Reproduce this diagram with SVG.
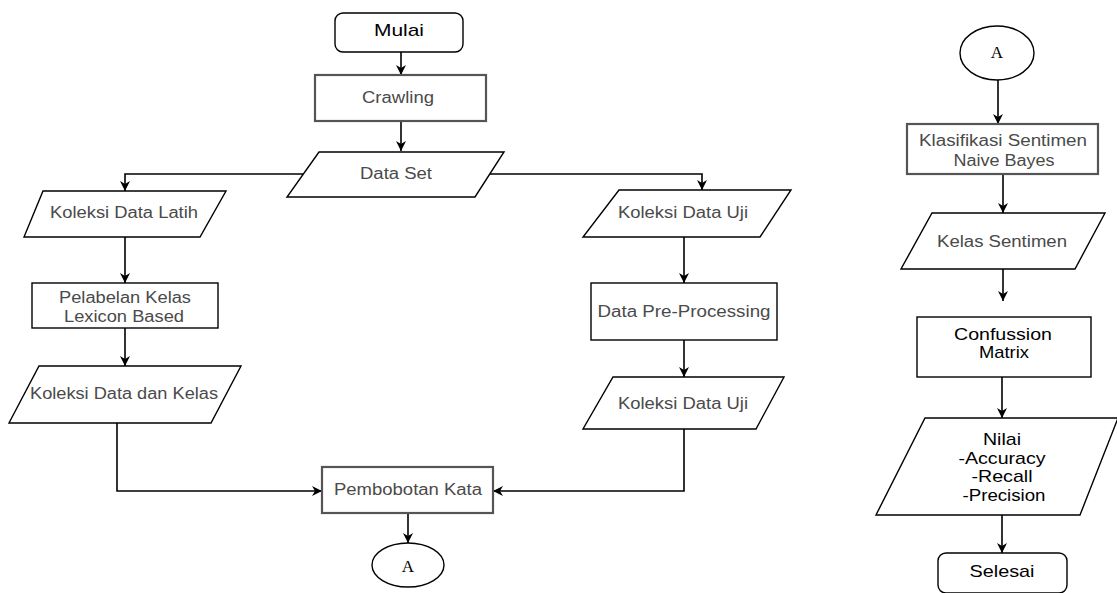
<svg xmlns="http://www.w3.org/2000/svg" width="1117" height="593" viewBox="0 0 1117 593">
<defs>
<marker id="ah" markerUnits="userSpaceOnUse" markerWidth="11" markerHeight="11" refX="10" refY="5" orient="auto">
<path d="M0,0 L10,5 L0,10 L3,5 z" fill="#000"/>
</marker>
<style>
.sh{fill:#fff;stroke:#000;stroke-width:1.4}
.gb{fill:#fff;stroke:#555;stroke-width:2.2}
.t{font-family:"Liberation Sans",Arial,sans-serif;font-size:16px;fill:#4a4a4a;text-anchor:middle}
.k{font-family:"Liberation Sans",Arial,sans-serif;font-size:17px;fill:#000;text-anchor:middle}
.s{font-family:"Liberation Serif","Times New Roman",serif;font-size:17px;fill:#000;text-anchor:middle}
.c{fill:none;stroke:#000;stroke-width:1.6;marker-end:url(#ah)}
</style>
</defs>
<g id="connectors">
<path class="c" d="M401,52 V75"/>
<path class="c" d="M401,121 V151"/>
<path class="c" d="M303,174 H125 V191"/>
<path class="c" d="M490,174 H702 V190"/>
<path class="c" d="M125,237 V283"/>
<path class="c" d="M125,328 V366"/>
<path class="c" d="M684,237 V283"/>
<path class="c" d="M684,340 V377"/>
<path class="c" d="M117,423 V491 H322"/>
<path class="c" d="M684,429 V491 H493"/>
<path class="c" d="M408,513 V543"/>
<path class="c" d="M998,80 V124"/>
<path class="c" d="M1003,174 V213"/>
<path class="c" d="M1003,269 V301"/>
<path class="c" d="M1002,377 V418"/>
<path class="c" d="M1002,515 V553"/>
</g>
<g id="mulai">
<rect class="sh" x="335" y="13" width="128" height="39" rx="8"/>
<text class="k" x="399" y="36" textLength="50" lengthAdjust="spacingAndGlyphs">Mulai</text>
</g>
<g id="crawling">
<rect class="gb" x="315" y="75" width="171" height="46"/>
<text class="t" x="398" y="103" textLength="72" lengthAdjust="spacingAndGlyphs">Crawling</text>
</g>
<g id="dataset">
<polygon class="sh" points="319,152 504,152 475,197 287,197"/>
<text class="t" x="396" y="179" textLength="72" lengthAdjust="spacingAndGlyphs">Data Set</text>
</g>
<g id="koleksi-latih">
<polygon class="sh" points="43,191 226,191 200,237 24,237"/>
<text class="t" x="124" y="218" textLength="148" lengthAdjust="spacingAndGlyphs">Koleksi Data Latih</text>
</g>
<g id="pelabelan">
<rect class="sh" x="32" y="283" width="186" height="45"/>
<text class="t" x="125" y="303" textLength="132" lengthAdjust="spacingAndGlyphs">Pelabelan Kelas</text>
<text class="t" x="124" y="322" textLength="120" lengthAdjust="spacingAndGlyphs">Lexicon Based</text>
</g>
<g id="koleksi-kelas">
<polygon class="sh" points="39,366 241,366 211,423 9,423"/>
<text class="t" x="124" y="399" textLength="188" lengthAdjust="spacingAndGlyphs">Koleksi Data dan Kelas</text>
</g>
<g id="koleksi-uji-1">
<polygon class="sh" points="619,190 791,190 760,237 583,237"/>
<text class="t" x="683" y="218" textLength="130" lengthAdjust="spacingAndGlyphs">Koleksi Data Uji</text>
</g>
<g id="preprocessing">
<rect class="sh" x="591" y="283" width="186" height="57"/>
<text class="t" x="684" y="317" textLength="173" lengthAdjust="spacingAndGlyphs">Data Pre-Processing</text>
</g>
<g id="koleksi-uji-2">
<polygon class="sh" points="613,377 784,377 756,429 583,429"/>
<text class="t" x="683" y="409" textLength="130" lengthAdjust="spacingAndGlyphs">Koleksi Data Uji</text>
</g>
<g id="pembobotan">
<rect class="gb" x="322" y="467" width="171" height="46"/>
<text class="t" x="408" y="495" textLength="148" lengthAdjust="spacingAndGlyphs">Pembobotan Kata</text>
</g>
<g id="a-left">
<ellipse class="sh" cx="408" cy="565" rx="36" ry="22"/>
<text class="s" x="408" y="572">A</text>
</g>
<g id="a-right">
<ellipse class="sh" cx="997" cy="53" rx="37" ry="27"/>
<text class="s" x="997" y="58">A</text>
</g>
<g id="klasifikasi">
<rect class="gb" x="907" y="124" width="191" height="50"/>
<text class="t" x="1003" y="146" textLength="168" lengthAdjust="spacingAndGlyphs">Klasifikasi Sentimen</text>
<text class="t" x="1004" y="166" textLength="101" lengthAdjust="spacingAndGlyphs">Naive Bayes</text>
</g>
<g id="kelas-sentimen">
<polygon class="sh" points="932,213 1105,213 1075,269 901,269"/>
<text class="t" x="1002" y="247" textLength="130" lengthAdjust="spacingAndGlyphs">Kelas Sentimen</text>
</g>
<g id="confussion">
<rect class="sh" x="917" y="317" width="174" height="60"/>
<text class="k" x="1003" y="340" textLength="98" lengthAdjust="spacingAndGlyphs">Confussion</text>
<text class="k" x="1004" y="358" textLength="50" lengthAdjust="spacingAndGlyphs">Matrix</text>
</g>
<g id="nilai">
<polygon class="sh" points="925,418 1118,418 1080,515 876,515"/>
<text class="k" x="1002" y="445" textLength="38" lengthAdjust="spacingAndGlyphs">Nilai</text>
<text class="k" x="1002" y="464" textLength="87" lengthAdjust="spacingAndGlyphs">-Accuracy</text>
<text class="k" x="1002" y="482" textLength="61" lengthAdjust="spacingAndGlyphs">-Recall</text>
<text class="k" x="1004" y="501" textLength="83" lengthAdjust="spacingAndGlyphs">-Precision</text>
</g>
<g id="selesai">
<rect class="sh" x="938" y="553" width="129" height="40" rx="8"/>
<text class="k" x="1002" y="577" textLength="65" lengthAdjust="spacingAndGlyphs">Selesai</text>
</g>
</svg>
